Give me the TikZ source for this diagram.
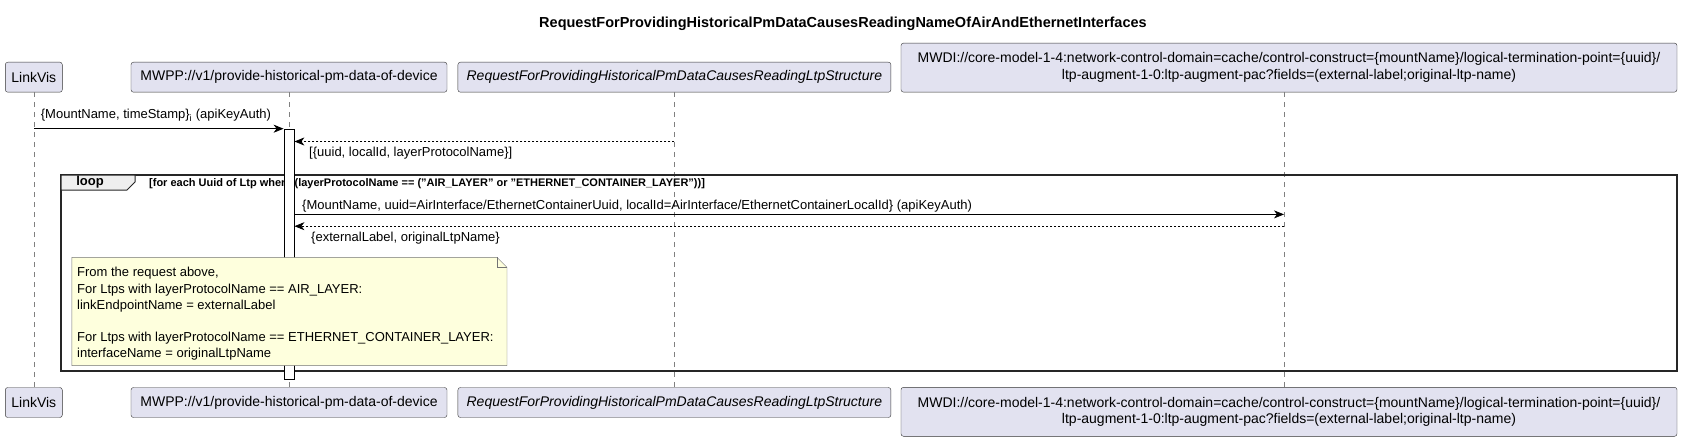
\documentclass[tikz,border=0pt]{standalone}
\usepackage{fontspec}
\setmainfont{Liberation Sans}
\usetikzlibrary{arrows.meta}
\definecolor{partfill}{HTML}{E2E2F0}
\definecolor{notefill}{HTML}{FEFFDD}
\definecolor{tabfill}{HTML}{EEEEEE}

\begin{document}
\begin{tikzpicture}[x=1pt, y=-1pt,
  party/.style={draw=black!80, fill=partfill, rounded corners=2.5pt, inner sep=0pt, minimum height=30, align=center, font=\fontsize{14}{16.5}\selectfont},
  life/.style={draw=gray, dash pattern=on 5pt off 5pt, line width=0.5pt},
  msg/.style={-{Stealth[length=10pt,width=8pt,inset=3pt]}, line width=0.8pt},
  reply/.style={msg, dash pattern=on 2pt off 2pt},
  msgtext/.style={anchor=base west, inner sep=0pt, font=\fontsize{13}{15}\selectfont},
]
\useasboundingbox (0,0) rectangle (1681,441);

\node[font=\bfseries\fontsize{14.5}{17}\selectfont] (title) at (843,23.6) {RequestForProvidingHistoricalPmDataCausesReadingNameOfAirAndEthernetInterfaces};

\node[party, minimum width=57] (linkvisTop) at (33.8,77.2) {LinkVis};
\node[party, minimum width=316] (mwppTop) at (289,77.2) {MWPP://v1/provide-historical-pm-data-of-device};
\node[party, minimum width=433, font=\itshape\fontsize{14}{16.5}\selectfont] (ltpTop) at (674.4,77.2) {RequestForProvidingHistoricalPmDataCausesReadingLtpStructure};
\node[party, minimum width=776, minimum height=49] (mwdiTop) at (1289,67.6) {MWDI://core-model-1-4:network-control-domain=cache/control-construct=\{mountName\}/logical-termination-point=\{uuid\}/\\ltp-augment-1-0:ltp-augment-pac?fields=(external-label;original-ltp-name)};

\node[party, minimum width=57] (linkvisBot) at (33.8,402.5) {LinkVis};
\node[party, minimum width=316] (mwppBot) at (289,402.5) {MWPP://v1/provide-historical-pm-data-of-device};
\node[party, minimum width=433, font=\itshape\fontsize{14}{16.5}\selectfont] (ltpBot) at (674.4,402.5) {RequestForProvidingHistoricalPmDataCausesReadingLtpStructure};
\node[party, minimum width=776, minimum height=49] (mwdiBot) at (1289,411.8) {MWDI://core-model-1-4:network-control-domain=cache/control-construct=\{mountName\}/logical-termination-point=\{uuid\}/\\ltp-augment-1-0:ltp-augment-pac?fields=(external-label;original-ltp-name)};

\draw[life] (linkvisTop) -- (linkvisBot);
\draw[life] (mwppTop) -- (mwppBot);
\draw[life] (ltpTop) -- (ltpBot);
\draw[life] ([xshift=-5pt]mwdiTop.south) -- ([xshift=-5pt]mwdiBot.north);

\draw[line width=1.5pt, draw=black!85] (61,175) rectangle (1677,371);
\draw[fill=tabfill, line width=1pt, draw=black!85] (61,175) -- (135,175) -- (135,182) -- (127,190) -- (61,190) -- cycle;
\node[font=\bfseries\fontsize{13}{15}\selectfont, inner sep=0pt] (loopTag) at (90,182.5) {loop};
\node[anchor=base west, inner sep=0pt, font=\bfseries\fontsize{11}{13}\selectfont] (loopCond) at (149,186) {[for each Uuid of Ltp where (layerProtocolName == ("AIR\_LAYER" or "ETHERNET\_CONTAINER\_LAYER"))]};

\node[draw=black, fill=white, line width=0.8pt, minimum width=10, minimum height=250, inner sep=0pt] (act) at (289,254) {};

\coordinate (m1s) at (34,128.7);
\coordinate (m2s) at (674.4,141.5);
\coordinate (m3e) at (1284,214.4);
\coordinate (m4s) at (1284,226.2);

\draw[msg] (m1s) -- (m1s -| act.west);
\draw[reply] (m2s) -- (m2s -| act.east);
\draw[msg] (m3e -| act.east) -- (m3e);
\draw[reply] (m4s) -- (m4s -| act.east);

\node[msgtext] (m1text) at (40.7,119) {\{MountName, timeStamp\}\textsubscript{i} (apiKeyAuth)};
\node[msgtext] (m2text) at (309,157) {[\{uuid, localId, layerProtocolName\}]};
\node[msgtext] (m3text) at (302,209.5) {\{MountName, uuid=AirInterface/EthernetContainerUuid, localId=AirInterface/EthernetContainerLocalId\} (apiKeyAuth)};
\node[msgtext] (m4text) at (311,241.7) {\{externalLabel, originalLtpName\}};

\draw[fill=notefill, draw=black!55] (71.8,257.3) -- (497,257.3) -- (507,267.3) -- (507,365.6) -- (71.8,365.6) -- cycle;
\draw[draw=black!55] (497,257.3) -- (497,267.3) -- (507,267.3);
\node[anchor=base west, inner sep=0pt, align=left, font=\fontsize{13}{16.1}\selectfont] (noteText) at (77,357.4) {From the request above,\\For Ltps with layerProtocolName == AIR\_LAYER:\\linkEndpointName = externalLabel\\\mbox{}\\For Ltps with layerProtocolName == ETHERNET\_CONTAINER\_LAYER:\\interfaceName = originalLtpName};
\end{tikzpicture}
\end{document}
